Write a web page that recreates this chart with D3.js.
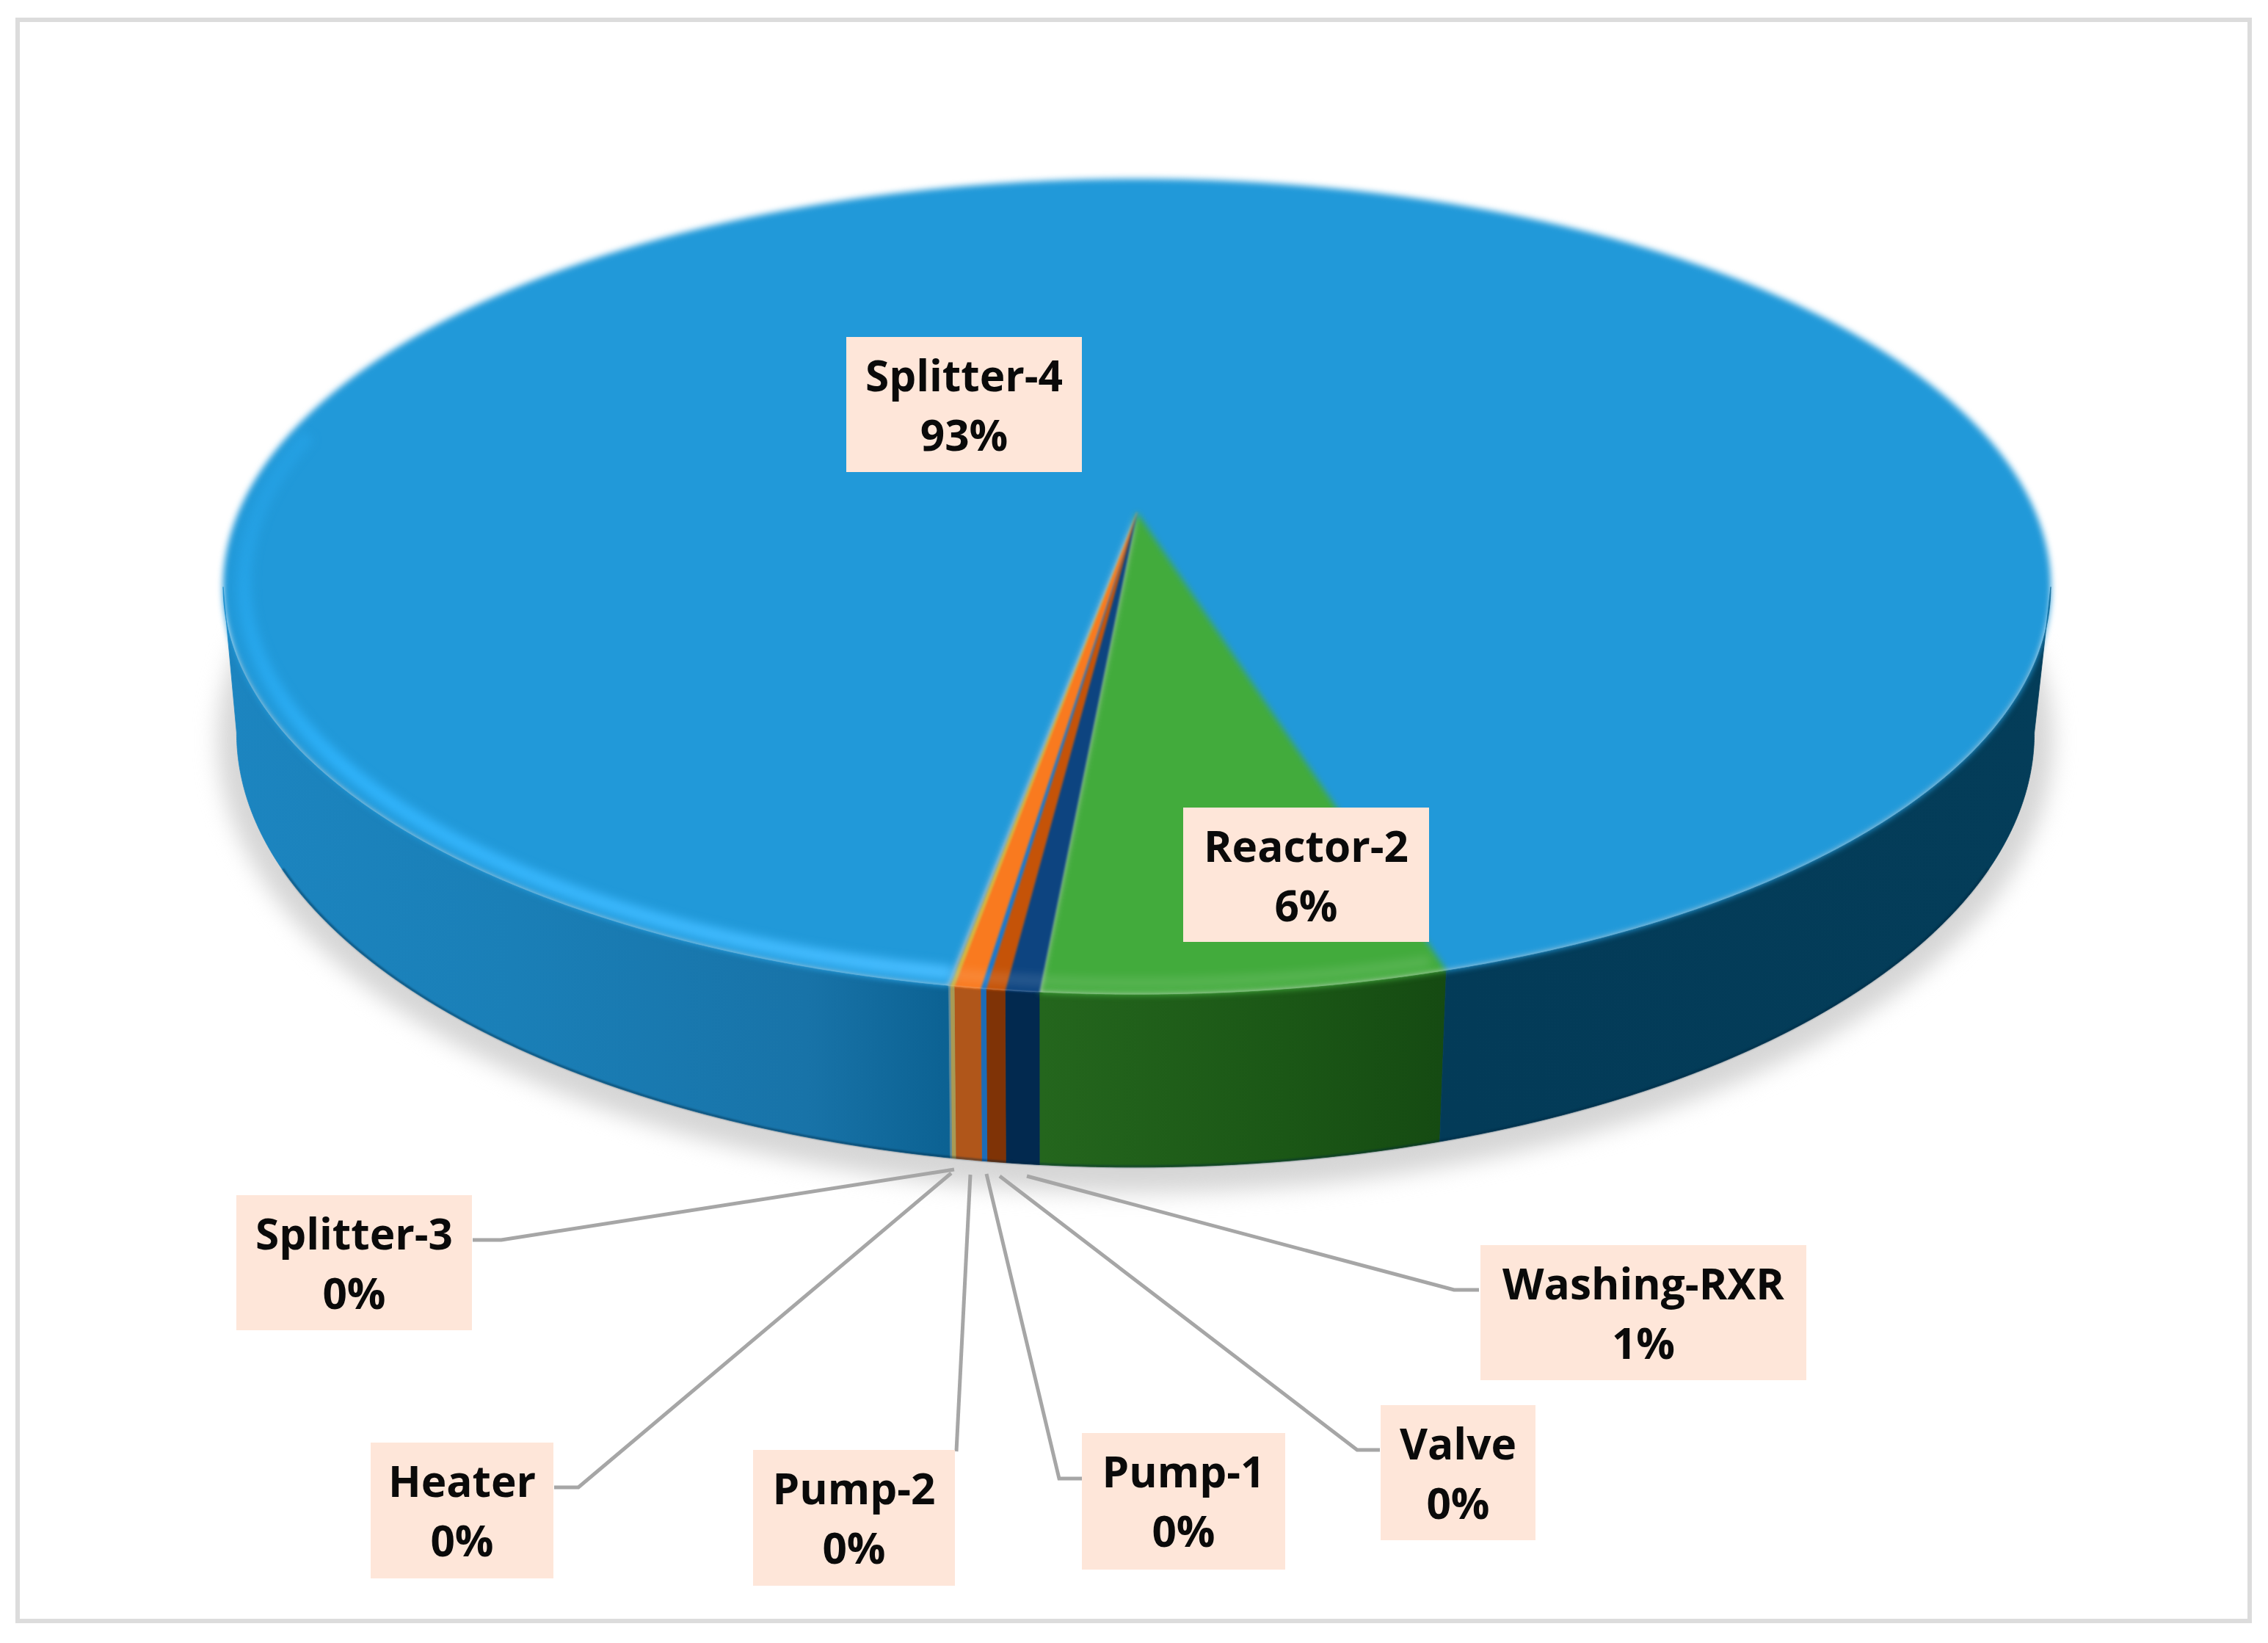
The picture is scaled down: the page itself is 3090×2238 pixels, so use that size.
<!DOCTYPE html>
<html><head><meta charset="utf-8">
<script src="https://cdn.jsdelivr.net/npm/d3@7/dist/d3.min.js"></script>
<style>html,body{margin:0;background:#fff}svg{display:block}</style>
</head><body><svg id="c" width="3090" height="2238" xmlns="http://www.w3.org/2000/svg"></svg>
<script>
// ---- data (percent shares, in drawing order around the pie) ----
const categories = ["Reactor-2","Washing-RXR","Valve","Pump-1","Pump-2","Heater","Splitter-3","Splitter-4"];
const values     = [6.0, 0.5, 0.28, 0.08, 0.39, 0.06, 0.03, 92.66];
const topColors  = ["#42ab3c","#0d4480","#c55308","#1d78cc","#f97a1f","#d6b53c","#7fa8b0","#2199d9"];
const sideColors = ["#1f5c1a","#02294f","#7f3306","#1c6cb8","#b0561a","#a89a55","#5f8a98","#1878ad"];
// ---- layout ----
const boxes = {
  "Splitter-4":[1153,459,1474,643], "Reactor-2":[1612,1100,1947,1283],
  "Splitter-3":[322,1628,643,1812], "Heater":[505,1965,754,2150],
  "Pump-2":[1026,1975,1301,2160], "Pump-1":[1474,1952,1751,2138],
  "Valve":[1881,1914,2092,2098], "Washing-RXR":[2017,1696,2461,1880]
};
const leaders = {
  "Splitter-3":[[644,1689],[683,1689],[1300,1593]],
  "Heater":[[755,2026],[788,2026],[1296,1598]],
  "Pump-2":[[1303,1977],[1322,1600]],
  "Pump-1":[[1474,2014],[1443,2014],[1344,1599]],
  "Valve":[[1880,1975],[1849,1975],[1362,1602]],
  "Washing-RXR":[[2015,1757],[1981,1757],[1399,1602]]
};
const rad = Math.PI/180;
const K = 0.1827;
const topG = {x:1549, y:698, a:537, b:1224};
const botG = {x:1547, y:890, a:572, b:1204};
const EXT = Math.acos(K);           // angle of the widest point of each rim
function pt(g, phi, r=1){
  const u=-Math.sin(phi)*r, v=Math.cos(phi)*r, w=1-K*v;
  return [g.x+g.b*u/w, g.y+g.a*v/w];
}
function arcPts(g, a0, a1, r=1){
  const n=Math.max(2,Math.ceil(Math.abs(a1-a0)/(0.25*rad)));
  return d3.range(n+1).map(i=>pt(g,a0+(a1-a0)*i/n,r));
}
const line=d3.line();
const pie=d3.pie().sort(null).value(d=>d).startAngle(-16.5*rad).endAngle(343.5*rad);
const arcs=pie(values);

const svg=d3.select("#c");
const defs=svg.append("defs");
function blur(id,s){
  defs.append("filter").attr("id",id).attr("filterUnits","userSpaceOnUse")
    .attr("color-interpolation-filters","sRGB")
    .attr("x",0).attr("y",0).attr("width",3090).attr("height",2238)
    .append("feGaussianBlur").attr("stdDeviation",s);
}
blur("b4",4.5); blur("bs",1.4); blur("b5",6.5); blur("b16",15); blur("b1",1.2); blur("t",0.6);
function grad(id,stops,x1=300,x2=2800,y1=0,y2=0){
  const g=defs.append("linearGradient").attr("id",id).attr("gradientUnits","userSpaceOnUse")
    .attr("x1",x1).attr("x2",x2).attr("y1",y1).attr("y2",y2);
  stops.forEach(s=>g.append("stop").attr("offset",s[0]).attr("stop-color",s[1]).attr("stop-opacity",s[2]??1));
}
grad("sideBlue",[[0,"#1c85c0"],[0.16,"#1a7fb7"],[0.32,"#1873a8"],[0.395,"#0c6293"],[0.66,"#033b58"],[1,"#043d59"]]);
grad("sideGreen",[[0,"#24661d"],[0.6,"#1b5716"],[1,"#154a12"]],1418,1975);
grad("hl",[[0,"#2fb5ff",0],[0.1,"#2aaef6",0.55],[0.3,"#2fb3fb",0.95],[1,"#48bdff",1]],300,1300,650,1340);

// page frame
svg.append("rect").attr("x",24).attr("y",27).attr("width",3041).attr("height",2181)
  .attr("fill","#fff").attr("stroke","#dcdcdc").attr("stroke-width",6);

// ground shadow
svg.append("ellipse").attr("cx",1547).attr("cy",1008).attr("rx",1250).attr("ry",617)
  .attr("fill","#d6d6d6").attr("filter","url(#b16)");

// side walls
const wall=svg.append("g");
arcs.forEach((a,i)=>{
  const name=categories[i], lo=a.startAngle, hi=a.endAngle;
  const fill = name==="Splitter-4"?"url(#sideBlue)":name==="Reactor-2"?"url(#sideGreen)":sideColors[i];
  const pieces = hi>Math.PI ? [[lo,EXT],[2*Math.PI-EXT,hi]] : [[lo,hi]];
  pieces.forEach(p=>{
    const pts=arcPts(topG,p[0],p[1]).concat(arcPts(botG,p[1],p[0]));
    wall.append("path").attr("d",line(pts)+"Z").attr("fill",fill).attr("stroke",fill).attr("stroke-width",0.8);
  });
});
// darker lower edge of the wall
svg.append("path").attr("d",line(arcPts(botG,-62*rad,62*rad,0.999))).attr("fill","none")
  .attr("stroke","#00263f").attr("stroke-opacity",0.45).attr("stroke-width",3).attr("filter","url(#b1)");

// top face: large slices soft-edged, thin slices kept distinct on top of them
const facesBig=svg.append("g").attr("filter","url(#b4)");
const facesThin=svg.append("g").attr("filter","url(#bs)");
[7,0,1,2,3,4,5,6].forEach(i=>{
  const a=arcs[i];
  const pts=[[topG.x,topG.y]].concat(arcPts(topG,a.startAngle,a.endAngle));
  (values[i]>=1?facesBig:facesThin).append("path").attr("d",line(pts)+"Z").attr("fill",topColors[i])
    .attr("stroke",topColors[i]).attr("stroke-width",0.6);
});

// bevel highlight along the front-left rim, and faint sheen over the front slices
svg.append("path").attr("d",line(arcPts(topG,10*rad,102*rad,0.978))).attr("fill","none")
  .attr("stroke","url(#hl)").attr("stroke-width",20).attr("filter","url(#b5)");
svg.append("path").attr("d",line(arcPts(topG,-16*rad,10*rad,0.98))).attr("fill","none")
  .attr("stroke","#fff").attr("stroke-opacity",0.12).attr("stroke-width",14).attr("filter","url(#b5)");

// leader lines
const leaderG=svg.append("g").attr("filter","url(#t)");
Object.entries(leaders).forEach(([k,p])=>{
  leaderG.append("path").attr("d",line(p)).attr("fill","none").attr("stroke","#a6a6a6")
    .attr("stroke-width",5);
});

// labels
const lab=svg.append("g");
categories.forEach((name,i)=>{
  const b=boxes[name];
  lab.append("rect").attr("x",b[0]).attr("y",b[1]).attr("width",b[2]-b[0]).attr("height",b[3]-b[1]).attr("fill","#fee6d9");
  const t=lab.append("text").attr("text-anchor","middle").attr("font-family","'Open Sans'")
    .attr("font-weight",700).attr("font-size",58.5).attr("fill","#0a0a0a").attr("filter","url(#t)");
  const cx=(b[0]+b[2])/2;
  t.append("tspan").attr("x",cx).attr("y",b[1]+74).text(name);
  t.append("tspan").attr("x",cx).attr("y",b[1]+155).text(Math.round(values[i])+"%");
});
</script></body></html>
